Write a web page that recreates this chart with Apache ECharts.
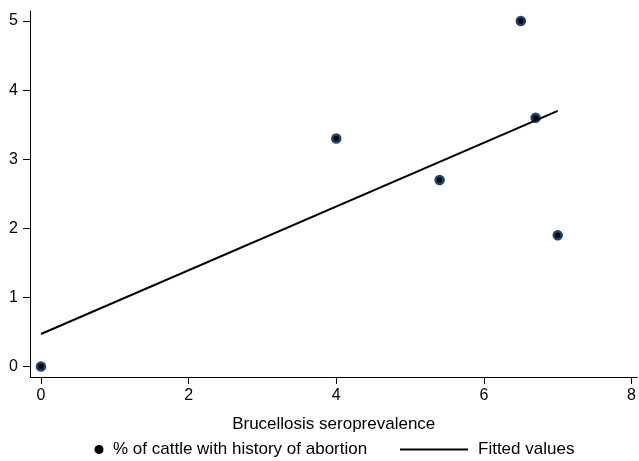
<!DOCTYPE html>
<html>
<head>
<meta charset="utf-8">
<script src="https://cdn.jsdelivr.net/npm/echarts@6/dist/echarts.min.js"></script>
<style>html,body{margin:0;padding:0;background:#fff;}#c{width:639px;height:461px;}</style>
</head>
<body>
<div id="c"></div>
<script>
// Data
const seroprevalence = [0, 4, 5.4, 6.5, 6.7, 7];
const abortionPct = [0, 3.3, 2.7, 5, 3.6, 1.9];
const fittedX = [0, 7];
const fittedY = [0.47, 3.70];
const xTicks = [0, 2, 4, 6, 8];
const yTicks = [0, 1, 2, 3, 4, 5];
const xTitle = 'Brucellosis seroprevalence';
const scatterName = '% of cattle with history of abortion';
const lineName = 'Fitted values';

const scatterData = seroprevalence.map((x, i) => [x, abortionPct[i]]);
const lineData = fittedX.map((x, i) => [x, fittedY[i]]);

const font = 'Liberation Sans, Arial, Helvetica, sans-serif';
const fs = 17;
const chart = echarts.init(document.getElementById('c'), null, {renderer: 'canvas'});
chart.setOption({
  animation: false,
  backgroundColor: '#fff',
  grid: {left: 30, right: 0, top: 11, bottom: 84, containLabel: false},
  xAxis: {
    type: 'value', min: -0.149, max: 8.08,
    splitLine: {show: false},
    axisLine: {show: true, onZero: false, lineStyle: {color: '#000', width: 1}},
    axisTick: {show: true, length: 7, customValues: xTicks, lineStyle: {color: '#000', width: 1}},
    axisLabel: {customValues: xTicks, color: '#000', fontSize: 16, fontFamily: font, margin: 11},
    name: xTitle, nameLocation: 'middle', nameGap: 39,
    nameTextStyle: {color: '#000', fontSize: fs, fontFamily: font}
  },
  yAxis: {
    type: 'value', min: -0.152, max: 5.145,
    splitLine: {show: false},
    axisLine: {show: true, onZero: false, lineStyle: {color: '#000', width: 1}},
    axisTick: {show: true, length: 7, customValues: yTicks, lineStyle: {color: '#000', width: 1}},
    axisLabel: {customValues: yTicks, color: '#000', fontSize: 16, fontFamily: font, margin: 12}
  },
  legend: [
    {
      left: 89.5, top: 436, icon: 'circle', itemWidth: 9, itemHeight: 9,
      data: [{name: scatterName, itemStyle: {color: '#000', borderWidth: 0}}],
      textStyle: {color: '#000', fontSize: fs, fontFamily: font, padding: [0, 0, 0, 4.5]}
    },
    {
      left: 395, top: 436, icon: 'rect', itemWidth: 68, itemHeight: 2,
      data: [{name: lineName, itemStyle: {color: '#000'}}],
      textStyle: {color: '#000', fontSize: fs, fontFamily: font, padding: [0, 0, 0, 5]}
    }
  ],
  series: [
    {
      name: scatterName, type: 'scatter', data: scatterData,
      symbol: 'circle', symbolSize: 8,
      itemStyle: {color: '#000', borderColor: '#1a476f', borderWidth: 2.5, opacity: 1}
    },
    {
      name: lineName, type: 'line', data: lineData,
      symbol: 'none', lineStyle: {color: '#000', width: 2},
      itemStyle: {color: '#000'}
    }
  ]
});
</script>
</body>
</html>
